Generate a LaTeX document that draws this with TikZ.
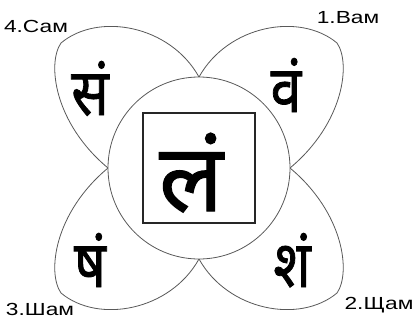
\documentclass[tikz,border=0pt]{standalone}
\usepackage{fontspec}
\setmainfont{Liberation Sans}
\newfontfamily\deva[Script=Devanagari, FakeBold=1.3]{Noto Sans}
\tikzset{
  petal/.style={draw=black!65, line width=0.8pt, fill=white},
  ring/.style={draw=black!65, line width=0.8pt, fill=white},
  frame/.style={draw=black!85, line width=1.6pt},
  syl/.style={font=\deva\fontsize{65}{65}\selectfont, inner sep=0pt, anchor=base},
  bigsyl/.style={font=\deva\fontsize{94}{94}\selectfont, inner sep=0pt, anchor=base},
  lab/.style={font=\fontsize{17.5}{17.5}\selectfont, inner sep=0pt}
}
\newcommand{\petalpath}{(0,-91) .. controls (29,-143) and (101,-156) .. (138,-125)
  .. controls (152,-105) and (145,-45) .. (91,0)}
\newcommand{\narrow}[1]{\scalebox{0.85}[1]{#1}}
\begin{document}
\begin{tikzpicture}[x=1pt,y=-1pt]
\useasboundingbox (0,0) rectangle (413,322);
\begin{scope}[shift={(199,168)}]
  \draw[petal] \petalpath;
  \begin{scope}[xscale=-1] \draw[petal] \petalpath; \end{scope}
  \begin{scope}[yscale=-1] \draw[petal] \petalpath; \end{scope}
  \begin{scope}[xscale=-1,yscale=-1] \draw[petal] \petalpath; \end{scope}
\end{scope}
\node[ring, circle, minimum size=182pt, inner sep=0pt] (c) at (199,168) {};
\node[frame, minimum width=112pt, minimum height=110pt, inner sep=0pt] (sq) at (199,168) {};
\node[bigsyl] (la) at (191,211) {लं};
\node[syl] (sa) at (90,115) {\narrow{सं}};
\node[syl] (va) at (286,112) {\narrow{वं}};
\node[syl] (ssa) at (90,287) {\narrow{षं}};
\node[syl] (sha) at (292,287) {\narrow{शं}};
\node[lab] (l1) at (348,18) {\scalebox{1.3}[1]{1.Вам}};
\node[lab] (l4) at (36,26) {\scalebox{1.3}[1]{4.Сам}};
\node[lab] (l3) at (40,309) {\scalebox{1.3}[1]{3.Шам}};
\node[lab] (l2) at (379,305) {\scalebox{1.3}[1]{2.Щам}};
\end{tikzpicture}
\end{document}
